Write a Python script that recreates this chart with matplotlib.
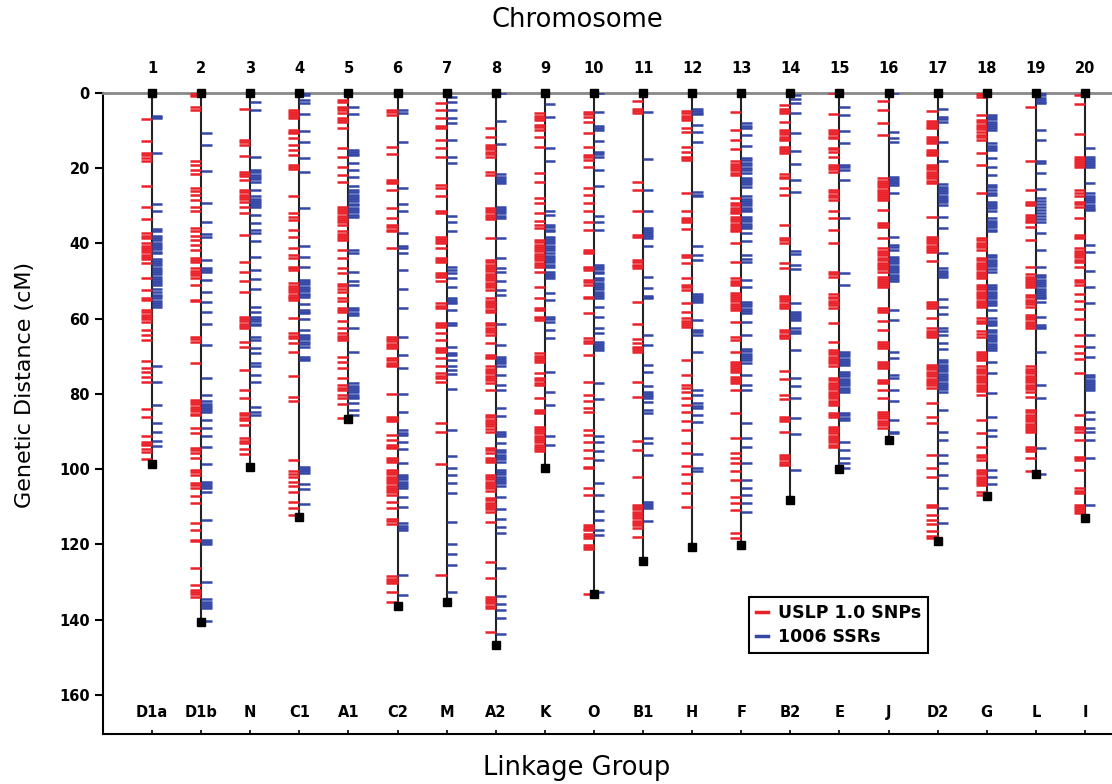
import matplotlib
matplotlib.use('Agg')
import matplotlib.pyplot as plt
from matplotlib.lines import Line2D

# linkage groups (bottom) and chromosome numbers (top)
groups = ['D1a', 'D1b', 'N', 'C1', 'A1', 'C2', 'M', 'A2', 'K', 'O',
          'B1', 'H', 'F', 'B2', 'E', 'J', 'D2', 'G', 'L', 'I']
chrom = list(range(1, 21))
lengths = [98.6, 140.7, 99.5, 112.6, 86.6, 136.5, 135.4, 146.7, 99.8, 133.2,
           124.4, 120.8, 120.1, 108.2, 99.9, 92.2, 119.2, 107.1, 101.4, 112.9]

# marker positions (cM) - red = USLP 1.0 SNPs, blue = SSRs
snp01 = [7.0, 12.8, 16.0, 16.6, 17.2, 18.2, 24.7, 30.2, 33.6, 37.3, 37.9, 38.6, 40.0, 40.6, 41.2, 41.8,
         42.4, 43.0, 43.6, 44.0, 45.3, 49.3, 52.5, 54.6, 55.0, 57.7, 58.3, 58.9, 59.5, 60.1, 60.8, 63.0,
         64.3, 65.7, 71.2, 73.2, 74.2, 75.4, 76.9, 84.0, 86.0, 91.3, 92.7, 93.2, 93.6, 94.6, 95.5, 97.3]
ssr01 = [6.0, 6.4, 6.7, 16.0, 29.6, 31.5, 36.2, 36.8, 38.0, 38.6, 39.2, 39.8, 40.4, 41.0, 41.6, 42.2,
         42.6, 44.0, 44.6, 45.2, 45.8, 46.4, 47.0, 47.6, 48.2, 48.8, 49.4, 50.0, 50.5, 51.0, 52.0, 52.8,
         53.6, 54.0, 54.6, 55.2, 55.8, 56.4, 57.0, 72.6, 76.7, 82.9, 87.8, 90.0, 92.5, 93.8]
snp02 = [0.1, 0.4, 0.7, 3.6, 4.5, 18.2, 19.1, 20.5, 21.6, 25.3, 26.0, 27.1, 28.4, 30.2, 31.5, 36.0,
         36.8, 37.9, 39.1, 40.4, 41.7, 43.9, 44.4, 44.8, 46.6, 47.2, 47.8, 48.4, 49.2, 51.0, 55.0, 55.3,
         64.8, 65.4, 66.1, 71.9, 81.6, 82.2, 82.8, 83.4, 84.0, 84.6, 85.2, 85.6, 89.0, 90.5, 94.4, 95.0,
         95.8, 97.1, 100.2, 100.8, 101.5, 103.7, 104.3, 105.1, 107.0, 109.0, 114.4, 116.1, 118.8, 119.2,
         126.2, 130.8, 132.1, 132.7, 133.3, 133.9]
ssr02 = [10.7, 13.8, 20.7, 29.3, 34.4, 37.6, 38.2, 44.4, 46.6, 47.0, 47.5, 49.7, 52.8, 55.5, 58.1,
         61.5, 67.0, 75.8, 80.3, 82.0, 82.6, 83.2, 83.8, 84.4, 84.7, 86.9, 89.0, 91.3, 94.0, 98.7,
         103.3, 103.9, 104.5, 105.1, 106.0, 113.5, 118.8, 119.4, 120.0, 130.1, 134.6, 135.2, 135.8,
         136.4, 137.0, 140.3]
snp03 = [4.3, 12.5, 13.1, 13.8, 16.7, 20.9, 21.5, 22.0, 23.1, 25.8, 26.4, 27.0, 27.6, 28.2, 28.9, 30.2,
         31.9, 37.7, 44.8, 47.5, 50.0, 53.0, 59.5, 60.1, 60.7, 61.3, 61.9, 62.6, 66.1, 67.4, 73.6, 78.9,
         81.0, 85.1, 85.7, 86.3, 86.9, 88.2, 91.8, 92.4, 93.1, 94.6, 95.9]
ssr03 = [2.5, 4.5, 16.9, 20.5, 21.1, 21.7, 22.3, 22.9, 23.6, 25.8, 27.5, 28.1, 28.7, 29.3, 29.8, 30.2,
         32.4, 34.6, 36.4, 37.3, 39.3, 43.5, 47.0, 49.5, 52.1, 57.0, 58.1, 59.5, 60.1, 60.7, 61.3, 61.7,
         64.8, 65.7, 67.9, 69.2, 71.9, 72.7, 75.0, 76.9, 83.4, 84.7, 85.6]
snp04 = [4.5, 5.0, 5.5, 6.0, 6.7, 9.8, 10.3, 10.7, 12.0, 13.8, 15.1, 16.5, 19.1, 19.6, 20.2, 27.5,
         31.9, 32.9, 33.7, 36.4, 38.2, 41.3, 43.1, 43.9, 46.2, 46.6, 47.0, 50.6, 51.2, 51.8, 52.4, 53.0,
         53.6, 54.1, 54.6, 55.0, 59.7, 63.9, 64.5, 65.2, 66.5, 68.8, 75.1, 80.7, 82.0, 97.5, 100.6, 101.2,
         102.0, 103.3, 104.6, 106.1, 108.6, 110.4, 112.2]
ssr04 = [0.0, 0.5, 1.9, 2.7, 5.7, 10.0, 13.1, 17.2, 20.9, 30.5, 40.8, 43.5, 46.2, 49.7, 50.3, 50.9,
         51.5, 52.1, 52.7, 53.3, 53.7, 54.1, 56.2, 57.7, 58.2, 58.6, 60.1, 63.0, 64.3, 64.9, 65.5, 66.1,
         66.7, 67.4, 70.1, 70.6, 71.0, 99.3, 99.9, 100.5, 101.1, 104.0, 105.2, 109.3]
snp05 = [1.9, 2.3, 3.6, 4.1, 4.5, 5.4, 6.7, 7.2, 7.6, 9.2, 14.5, 16.9, 19.6, 21.8, 23.6, 30.2, 30.8,
         31.4, 32.0, 32.6, 33.2, 33.7, 34.2, 35.1, 36.8, 37.4, 38.0, 38.6, 39.0, 41.7, 43.9, 46.6, 47.9,
         50.8, 51.4, 52.0, 52.8, 54.6, 55.3, 57.2, 57.7, 58.1, 60.6, 62.6, 63.9, 64.5, 65.1, 65.7, 70.1,
         71.4, 73.0, 75.8, 77.6, 78.3, 78.9, 80.3, 81.2, 82.8, 86.5]
ssr05 = [3.6, 5.7, 15.1, 15.6, 16.1, 16.5, 18.7, 20.5, 22.2, 24.6, 25.8, 26.4, 27.0, 27.6, 28.2, 28.8,
         29.4, 29.8, 30.5, 31.1, 31.7, 32.3, 32.9, 41.7, 42.6, 47.5, 50.1, 51.0, 57.2, 57.8, 58.4, 59.0,
         62.6, 68.9, 77.2, 77.8, 78.4, 79.0, 79.6, 80.2, 80.7, 81.2, 82.5, 84.3, 85.6]
snp06 = [4.5, 5.1, 5.8, 14.3, 16.3, 23.1, 23.6, 24.0, 25.8, 30.5, 33.3, 35.1, 35.7, 36.3, 36.8, 41.3,
         64.8, 65.4, 66.0, 66.6, 67.2, 67.9, 70.5, 71.1, 71.7, 72.2, 72.7, 80.1, 86.0, 86.6, 87.2, 90.9,
         92.2, 93.6, 94.0, 94.4, 97.1, 97.6, 98.0, 100.2, 100.8, 101.4, 102.0, 102.6, 103.2, 103.8, 104.4,
         105.0, 105.6, 106.2, 106.8, 108.6, 110.4, 113.2, 113.9, 114.6, 128.5, 129.1, 129.7, 130.3,
         132.7, 135.4]
ssr06 = [4.5, 5.4, 12.9, 25.3, 29.6, 31.5, 37.3, 40.6, 41.3, 42.6, 47.0, 52.1, 57.2, 64.8, 69.6, 73.2,
         80.1, 84.7, 89.6, 90.3, 90.9, 92.7, 94.6, 98.4, 101.5, 102.1, 102.7, 103.3, 103.9, 104.5, 105.1,
         107.3, 110.0, 114.4, 115.0, 115.6, 116.1, 128.1, 133.4]
snp07 = [2.7, 4.5, 6.7, 8.9, 9.4, 12.5, 14.7, 17.0, 24.5, 25.3, 27.5, 31.5, 32.0, 38.2, 38.8, 39.4,
         40.0, 41.3, 43.9, 44.4, 44.8, 47.9, 48.4, 48.8, 50.1, 55.9, 56.5, 57.2, 61.2, 61.7, 62.1, 63.9,
         65.7, 67.9, 68.4, 68.8, 70.5, 72.7, 74.5, 75.1, 75.8, 76.7, 87.8, 90.0, 98.7, 128.1]
ssr07 = [1.0, 2.3, 4.5, 6.7, 8.1, 12.5, 17.0, 18.7, 32.6, 34.2, 36.8, 46.2, 47.0, 47.9, 49.3, 51.5,
         54.6, 55.0, 55.5, 55.9, 57.7, 61.2, 61.7, 67.4, 69.2, 69.6, 71.0, 72.7, 73.6, 74.8, 78.8, 89.6,
         96.5, 99.8, 101.5, 103.7, 106.4, 114.1, 120.0, 122.6, 125.6, 132.7]
snp08 = [9.4, 11.6, 13.8, 14.4, 15.0, 15.6, 16.2, 16.9, 20.9, 21.8, 30.5, 31.1, 31.7, 32.3, 32.9, 33.5,
         38.6, 44.4, 45.0, 45.6, 46.2, 46.8, 47.4, 48.0, 48.6, 49.2, 49.8, 50.4, 51.0, 51.6, 52.3, 54.6,
         55.2, 55.8, 56.4, 57.0, 57.6, 58.1, 61.2, 61.8, 62.4, 63.0, 63.6, 64.3, 66.5, 69.6, 70.1, 70.5,
         72.7, 73.3, 73.9, 74.5, 75.1, 75.7, 76.3, 77.2, 78.9, 85.6, 86.2, 86.8, 87.4, 88.0, 88.6, 89.2,
         90.0, 94.4, 95.0, 95.8, 97.1, 97.6, 98.0, 101.5, 102.1, 102.7, 103.3, 103.9, 104.5, 105.1,
         105.9, 107.7, 108.3, 108.9, 109.5, 110.0, 110.6, 111.3, 114.1, 124.7, 128.8, 133.9, 134.5,
         135.1, 135.7, 136.3, 137.0, 143.2]
ssr08 = [0.0, 7.4, 13.6, 21.6, 22.2, 22.8, 23.4, 24.0, 30.2, 30.8, 31.4, 32.0, 32.6, 33.1, 38.6, 43.8,
         46.4, 47.5, 50.1, 52.3, 53.7, 61.5, 67.0, 70.1, 70.7, 71.3, 71.9, 72.7, 75.0, 77.6, 78.9, 83.8,
         85.8, 90.0, 90.6, 91.3, 93.1, 94.9, 95.5, 96.1, 96.7, 97.3, 98.0, 100.2, 100.8, 101.4, 102.0,
         102.6, 103.2, 103.8, 104.6, 107.3, 110.5, 113.2, 115.5, 117.0, 126.2, 133.6, 135.9, 137.4,
         139.6, 143.9]
snp09 = [5.4, 6.0, 6.6, 7.2, 8.5, 9.1, 9.8, 11.6, 14.3, 21.3, 23.6, 28.0, 29.3, 32.0, 34.0, 35.1, 36.0,
         39.1, 39.7, 40.3, 40.9, 41.5, 42.1, 42.7, 43.3, 43.9, 44.5, 45.1, 45.7, 46.2, 47.5, 51.5, 54.6,
         57.2, 57.7, 59.5, 59.9, 60.3, 69.2, 69.8, 70.4, 71.0, 71.4, 74.5, 75.8, 76.4, 77.0, 77.6, 81.2,
         84.3, 84.7, 85.1, 88.7, 89.3, 89.9, 90.5, 91.1, 91.7, 92.3, 92.9, 93.5, 94.1, 94.7, 95.3]
ssr09 = [3.0, 6.3, 14.7, 18.2, 31.4, 32.4, 35.1, 35.7, 36.3, 36.8, 38.2, 38.8, 39.4, 40.0, 40.6, 41.2,
         41.7, 42.6, 43.2, 43.8, 44.4, 45.0, 45.6, 46.2, 47.5, 48.1, 48.7, 49.2, 53.2, 55.0, 59.5, 60.1,
         60.8, 63.0, 65.2, 74.2, 79.4, 82.9, 91.3, 93.6]
snp10 = [5.0, 5.6, 6.3, 7.6, 10.7, 14.3, 16.5, 17.1, 17.8, 19.6, 25.3, 27.1, 29.3, 31.5, 34.2, 36.4,
         41.7, 42.2, 42.6, 46.2, 46.6, 47.0, 49.7, 50.3, 51.0, 54.1, 54.6, 58.6, 65.2, 65.8, 66.5, 69.6,
         76.7, 80.3, 81.9, 83.8, 84.7, 89.6, 90.9, 92.7, 94.9, 97.1, 99.3, 99.8, 105.1, 106.8, 114.8,
         115.3, 115.8, 116.3, 117.2, 117.7, 118.2, 120.2, 120.7, 121.2, 133.2]
ssr10 = [0.0, 5.1, 8.9, 9.4, 9.8, 12.8, 15.6, 16.2, 16.9, 20.5, 24.6, 32.6, 34.4, 36.4, 45.7, 46.3, 46.9,
         47.5, 47.9, 49.2, 49.8, 50.4, 51.0, 51.6, 52.2, 52.8, 53.4, 54.0, 54.6, 56.8, 59.5, 62.4, 63.9,
         66.1, 66.7, 67.3, 67.9, 68.3, 77.2, 81.3, 91.3, 92.7, 95.3, 97.5, 103.7, 106.8, 111.1, 113.5,
         116.1, 117.5, 132.7]
snp11 = [2.1, 4.3, 4.8, 5.4, 23.7, 25.8, 31.5, 37.7, 38.2, 44.4, 45.0, 45.6, 46.1, 46.6, 55.5, 61.5,
         65.4, 66.5, 67.4, 67.9, 68.4, 68.8, 76.7, 80.7, 92.5, 94.9, 102.0, 109.5, 110.1, 110.7, 111.3,
         111.9, 112.5, 113.1, 113.7, 114.3, 114.9, 115.7, 117.9]
ssr11 = [5.1, 17.5, 25.8, 31.4, 35.8, 36.4, 37.0, 37.6, 38.1, 38.6, 40.8, 49.0, 51.9, 53.9, 54.3, 54.6,
         64.3, 67.0, 72.3, 74.2, 77.8, 79.4, 80.0, 80.6, 81.2, 82.2, 84.3, 85.1, 91.6, 93.1, 96.2, 108.6,
         109.2, 109.8, 110.4, 113.9]
snp12 = [4.8, 5.4, 6.0, 6.6, 7.2, 9.4, 10.3, 14.3, 15.6, 16.9, 17.4, 17.8, 26.7, 31.5, 33.3, 33.8,
         34.2, 36.2, 43.1, 43.5, 45.3, 49.3, 51.0, 51.6, 52.3, 55.9, 58.1, 59.9, 60.5, 61.1, 61.6, 62.1,
         71.0, 75.0, 77.6, 78.5, 79.4, 81.2, 82.9, 84.7, 87.2, 89.6, 93.1, 95.8, 99.1, 101.4, 103.7,
         106.4, 110.0]
ssr12 = [4.3, 4.8, 5.3, 5.7, 8.5, 10.5, 13.1, 26.4, 27.0, 27.5, 40.8, 43.1, 44.4, 53.5, 54.0, 54.6,
         55.1, 55.5, 60.3, 63.0, 63.6, 64.3, 68.8, 78.9, 80.3, 82.5, 83.1, 83.8, 85.6, 87.4, 96.0, 99.8,
         100.6]
snp13 = [5.1, 9.8, 12.5, 14.9, 18.2, 18.8, 19.4, 20.0, 20.6, 21.2, 21.8, 28.0, 29.3, 29.9, 30.5, 31.1,
         31.6, 32.0, 32.9, 33.5, 34.1, 34.7, 35.3, 35.9, 36.4, 36.8, 39.9, 44.8, 49.3, 49.9, 50.5, 51.0,
         53.2, 53.7, 54.2, 54.8, 55.4, 56.0, 56.6, 57.2, 57.7, 61.0, 64.8, 65.7, 68.8, 71.4, 72.0, 72.6,
         73.2, 73.6, 74.1, 75.4, 76.0, 76.6, 77.2, 78.9, 85.1, 91.6, 95.8, 97.1, 98.4, 100.6, 102.9,
         107.3, 109.0, 110.8, 117.0, 118.4]
ssr13 = [8.1, 8.7, 9.4, 11.2, 14.0, 17.2, 17.8, 18.5, 19.1, 20.0, 20.6, 21.3, 22.5, 23.1, 23.7, 24.3,
         24.9, 27.5, 28.1, 28.7, 29.3, 29.9, 30.5, 31.0, 31.4, 32.9, 33.5, 34.1, 34.7, 35.3, 36.0, 37.3,
         39.3, 43.1, 44.0, 44.8, 49.7, 51.5, 55.5, 56.1, 56.7, 57.3, 57.9, 58.6, 60.8, 64.3, 68.1, 68.7,
         69.3, 69.9, 70.5, 71.1, 71.9, 75.0, 77.6, 78.9, 87.8, 91.6, 94.0, 98.4, 102.9, 104.9, 106.8,
         109.0, 111.4]
snp14 = [3.2, 4.3, 4.8, 5.4, 7.8, 9.8, 10.4, 11.0, 11.6, 12.1, 12.5, 14.3, 14.9, 15.5, 16.0, 21.6, 22.2,
         22.7, 25.3, 27.1, 35.1, 38.6, 39.2, 39.9, 45.3, 46.6, 53.9, 54.2, 54.8, 55.4, 56.0, 56.6, 57.2,
         63.0, 63.6, 64.2, 64.7, 65.2, 73.9, 76.0, 80.3, 81.3, 86.0, 86.6, 87.2, 90.0, 96.2, 96.8, 97.4,
         98.0, 98.5, 98.9]
ssr14 = [0.5, 1.5, 2.6, 5.4, 10.7, 15.4, 18.9, 23.1, 26.4, 42.0, 42.9, 45.7, 46.8, 55.9, 58.1, 58.7,
         59.3, 59.8, 60.3, 62.6, 63.2, 63.9, 68.3, 75.8, 77.8, 81.2, 86.5, 90.7, 100.2]
snp15 = [0.0, 5.7, 9.8, 10.4, 11.0, 11.6, 12.0, 14.5, 15.0, 15.6, 16.9, 19.1, 19.7, 20.3, 20.9, 25.8,
         26.4, 27.0, 27.6, 28.4, 31.4, 33.1, 36.4, 39.9, 47.5, 48.1, 48.8, 53.5, 54.1, 54.6, 55.2, 55.8,
         56.4, 57.2, 61.2, 66.1, 68.3, 68.9, 69.5, 70.1, 70.7, 71.3, 71.9, 72.7, 75.8, 76.4, 77.0, 77.6,
         78.2, 78.8, 79.4, 80.0, 80.6, 81.2, 81.8, 82.4, 82.9, 85.1, 85.6, 86.0, 88.7, 89.3, 89.9, 90.5,
         91.1, 91.7, 92.3, 92.9, 93.5, 94.0]
ssr15 = [3.6, 5.8, 10.1, 13.4, 19.1, 19.8, 20.5, 23.1, 33.3, 47.9, 51.0, 68.8, 69.4, 70.0, 70.6, 71.2,
         71.8, 72.3, 74.1, 74.7, 75.3, 75.9, 76.5, 77.1, 77.7, 78.3, 78.9, 79.4, 85.1, 85.7, 86.3, 86.9,
         92.7, 94.9, 97.1, 98.4, 99.8]
snp16 = [2.1, 4.5, 8.1, 11.2, 22.7, 23.3, 23.9, 24.5, 25.1, 25.7, 26.3, 26.9, 27.5, 28.0, 28.4, 31.1,
         34.6, 35.0, 35.5, 38.6, 41.3, 41.9, 42.5, 43.0, 43.9, 44.5, 45.1, 45.7, 46.3, 46.9, 47.5, 48.8,
         49.4, 50.0, 50.6, 51.1, 51.5, 57.2, 57.7, 58.1, 60.6, 63.0, 66.1, 66.7, 67.3, 67.9, 71.4, 72.0,
         72.6, 73.2, 76.3, 76.8, 77.2, 78.9, 81.2, 84.7, 85.3, 85.9, 86.5, 87.1, 87.7, 88.3, 89.1]
ssr16 = [0.1, 10.5, 12.0, 13.1, 22.2, 22.8, 23.4, 24.0, 24.4, 26.7, 38.2, 40.4, 41.0, 41.7, 43.5, 44.1,
         44.7, 45.3, 45.9, 46.5, 47.1, 47.7, 48.3, 48.9, 49.5, 50.1, 57.7, 60.3, 68.8, 70.5, 75.0, 75.8,
         78.9, 82.0, 86.9, 90.0, 90.5]
snp17 = [4.8, 7.4, 8.0, 8.6, 9.1, 9.4, 11.6, 12.2, 12.8, 13.4, 15.1, 15.6, 16.1, 16.5, 19.1, 19.7, 20.3,
         20.9, 21.5, 22.1, 22.7, 23.3, 24.0, 32.9, 38.2, 38.8, 39.4, 40.0, 40.6, 41.2, 41.7, 42.2, 44.6,
         55.5, 56.0, 56.6, 57.2, 59.9, 62.6, 63.2, 63.8, 64.3, 64.8, 72.3, 72.9, 73.5, 74.1, 74.7, 75.3,
         75.9, 76.5, 77.1, 77.7, 78.5, 82.5, 86.0, 87.8, 96.2, 99.8, 102.0, 109.5, 110.0, 112.2, 113.4,
         114.6, 116.4, 117.8, 118.4]
ssr17 = [4.3, 6.3, 6.9, 7.6, 13.1, 18.2, 24.3, 24.9, 25.5, 26.1, 26.7, 27.3, 27.9, 28.5, 29.1, 29.8,
         32.9, 36.0, 42.6, 46.6, 47.2, 47.8, 48.3, 48.8, 54.8, 56.8, 58.8, 62.6, 63.4, 64.3, 66.5, 68.0,
         71.0, 71.6, 72.2, 72.8, 73.4, 74.0, 74.6, 75.2, 75.8, 76.4, 77.0, 77.6, 78.2, 78.8, 79.4, 84.3,
         90.0, 92.2, 96.2, 98.4, 101.5, 105.1, 110.2, 114.4]
snp18 = [0.1, 0.5, 1.0, 5.8, 7.2, 7.8, 8.4, 9.0, 9.6, 10.3, 11.2, 11.8, 12.5, 16.0, 19.1, 26.7, 38.6,
         39.2, 39.8, 40.4, 41.0, 41.7, 43.9, 44.5, 45.1, 45.7, 46.3, 46.9, 47.5, 48.1, 48.7, 49.2, 51.0,
         51.6, 52.2, 52.8, 53.4, 54.0, 54.6, 55.2, 55.8, 56.4, 56.8, 59.9, 60.5, 61.2, 63.4, 64.1, 64.8,
         68.8, 69.4, 70.0, 70.5, 71.0, 72.7, 73.3, 73.9, 74.5, 75.1, 75.7, 76.3, 76.9, 77.5, 78.1, 78.7,
         79.3, 80.3, 86.9, 90.5, 94.0, 96.2, 96.8, 97.5, 100.2, 100.8, 101.4, 102.0, 102.6, 103.2, 103.8,
         104.2, 106.0, 106.8]
ssr18 = [5.8, 6.4, 7.0, 7.6, 8.2, 8.8, 9.3, 9.8, 13.4, 14.0, 14.6, 15.1, 17.2, 19.6, 21.8, 24.4, 25.1,
         25.8, 26.5, 27.1, 28.9, 29.5, 30.1, 30.7, 31.5, 33.3, 33.9, 34.5, 35.1, 35.7, 36.3, 36.8, 43.1,
         43.7, 44.3, 44.9, 45.5, 46.1, 46.7, 47.5, 51.0, 51.6, 52.2, 52.8, 53.4, 54.0, 54.6, 55.2, 55.8,
         56.4, 57.7, 59.9, 60.5, 61.1, 61.7, 63.0, 63.6, 64.2, 64.8, 65.4, 66.0, 66.6, 67.2, 67.8, 68.3,
         71.4, 74.5, 79.8, 86.0, 89.6, 91.3, 100.2, 102.0, 104.0]
snp19 = [3.6, 18.1, 25.8, 28.9, 29.4, 29.8, 32.4, 33.0, 33.6, 34.0, 34.4, 35.5, 39.1, 46.2, 48.2, 48.8,
         49.4, 50.0, 50.6, 51.0, 51.5, 53.7, 54.3, 55.0, 55.6, 56.2, 56.8, 59.0, 59.6, 60.2, 60.8, 61.4,
         62.0, 62.6, 72.7, 73.3, 73.9, 74.5, 75.1, 75.7, 76.3, 76.9, 77.5, 78.1, 78.7, 79.4, 80.7, 84.3,
         84.9, 85.5, 86.1, 86.7, 87.3, 87.9, 88.5, 89.1, 89.6, 90.0, 94.0, 94.6, 95.3, 97.1, 100.6]
ssr19 = [0.0, 0.6, 1.2, 1.8, 2.3, 2.7, 9.8, 12.5, 18.1, 18.7, 21.3, 25.5, 28.0, 28.8, 29.6, 30.4, 31.2,
         32.0, 32.8, 33.5, 34.2, 37.3, 41.7, 46.2, 48.4, 49.0, 49.6, 50.2, 50.8, 51.4, 52.0, 52.6, 53.2,
         53.8, 54.1, 54.6, 55.5, 59.5, 61.7, 62.2, 62.6, 68.9, 77.6, 81.2, 94.4, 101.4]
snp20 = [0.5, 2.8, 11.0, 16.9, 17.5, 18.1, 18.7, 19.2, 19.6, 25.8, 26.6, 27.5, 28.9, 29.5, 30.2, 33.3,
         37.7, 38.2, 38.6, 41.3, 41.9, 42.5, 43.1, 43.7, 44.3, 44.8, 46.2, 49.7, 50.3, 51.0, 53.5, 55.3,
         57.4, 60.1, 64.2, 67.2, 69.2, 70.7, 74.5, 85.6, 88.7, 89.3, 90.0, 92.2, 96.7, 97.1, 97.5, 100.2,
         105.1, 105.7, 106.4, 109.5, 110.1, 110.7, 111.2, 111.7]
ssr20 = [14.5, 16.9, 17.5, 18.1, 18.7, 19.2, 19.6, 24.0, 26.7, 27.3, 27.9, 28.5, 29.1, 29.7, 30.3, 30.8,
         31.1, 40.4, 42.2, 47.3, 51.5, 55.7, 64.3, 67.4, 70.1, 75.0, 75.6, 76.2, 76.8, 77.4, 78.0, 78.5,
         78.9, 84.7, 86.6, 89.1, 90.0, 92.2, 97.1, 109.5]

snps = [snp01, snp02, snp03, snp04, snp05, snp06, snp07, snp08, snp09, snp10,
        snp11, snp12, snp13, snp14, snp15, snp16, snp17, snp18, snp19, snp20]
ssrs = [ssr01, ssr02, ssr03, ssr04, ssr05, ssr06, ssr07, ssr08, ssr09, ssr10,
        ssr11, ssr12, ssr13, ssr14, ssr15, ssr16, ssr17, ssr18, ssr19, ssr20]

red = '#ea2129'
blue = '#3446a6'

fig = plt.figure(figsize=(11.12, 7.84), dpi=100)
ax = fig.add_axes([103 / 1112, 50 / 784, 1009 / 1112, 641 / 784])

for i in range(len(chrom)):
    x = chrom[i]
    ax.vlines(x, 0, lengths[i], color='#222222', lw=1.5, zorder=2)
    ax.hlines(snps[i], x - 0.23, x, color=red, lw=1.8, zorder=3)
    ax.hlines(ssrs[i], x, x + 0.21, color=blue, lw=1.8, zorder=3)
    ax.plot([x, x], [0, lengths[i]], 's', color='black', ms=6, zorder=4, clip_on=False)
    ax.text(x, -6.6, str(x), ha='center', va='center', fontsize=10.5, fontweight='bold')
    ax.text(x, 164.8, groups[i], ha='center', va='center', fontsize=10.5, fontweight='bold')

ax.set_xlim(0, 20.55)
ax.set_ylim(170.4, 0)

ax.set_yticks(range(0, 161, 20))
ax.tick_params(axis='y', direction='out', length=6, width=1.5, labelsize=10.5)
for lab in ax.get_yticklabels():
    lab.set_fontweight('bold')
ax.set_xticks(chrom)
ax.tick_params(axis='x', direction='in', length=3, width=1.2, labelbottom=False)

ax.spines['right'].set_visible(False)
ax.spines['top'].set_color('#888888')
ax.spines['top'].set_linewidth(2)
ax.spines['left'].set_linewidth(1.5)
ax.spines['bottom'].set_linewidth(1.5)

fig.text(577 / 1112, 1 - 20 / 784, 'Chromosome', ha='center', va='center', fontsize=18.5)
fig.text(577 / 1112, 1 - 768 / 784, 'Linkage Group', ha='center', va='center', fontsize=18.5)
fig.text(25 / 1112, 1 - 385 / 784, 'Genetic Distance (cM)', ha='center', va='center',
         rotation=90, fontsize=16)

handles = [Line2D([], [], color=red, lw=2.5), Line2D([], [], color=blue, lw=2.5)]
leg = ax.legend(handles, ['USLP 1.0 SNPs', '1006 SSRs'], loc='upper left',
                bbox_to_anchor=(0.640, 0.214), prop={'weight': 'bold', 'size': 12.5},
                handlelength=0.7, handletextpad=0.6, fancybox=False, framealpha=1,
                edgecolor='black', borderpad=0.4, labelspacing=0.35, borderaxespad=0)
leg.get_frame().set_linewidth(1.5)

fig.savefig('out.png', dpi=100)
